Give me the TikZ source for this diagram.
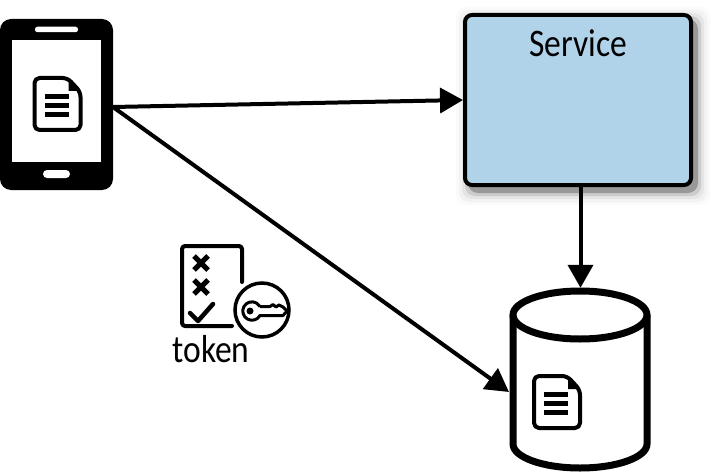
\documentclass[tikz,border=0pt]{standalone}
\usepackage{fontspec}
\setmainfont[FakeStretch=0.86]{Carlito}
\usetikzlibrary{arrows.meta}
\definecolor{svcblue}{HTML}{B0D3EA}
\tikzset{
  link/.style={->, line width=4pt},
  label/.style={font=\fontsize{39}{39}\selectfont, inner sep=0pt},
  iconline/.style={line width=4pt, line cap=round, line join=round},
  docbar/.style={fill=black, minimum width=24pt, minimum height=5pt, inner sep=0pt},
}
% document icon, (0,0) is its top left corner
\newcommand{\docicon}[3]{
  \begin{scope}[shift={(#1,#2)}]
    \draw[line width=4pt, line join=round, rounded corners=5pt, fill=white]
      (2,2) -- (35,2) -- (48,16) -- (48,54) -- (2,54) -- cycle;
    \fill (36,2) -- (36,15) -- (48,15) -- cycle;
    \node[docbar] (#3a) at (24,20.5) {};
    \node[docbar] (#3b) at (24,29.5) {};
    \node[docbar] (#3c) at (24,38.5) {};
  \end{scope}
}
\begin{document}
\begin{tikzpicture}[x=1pt, y=-1pt, >={Triangle[length=23pt,width=25pt]}]
  \useasboundingbox (0,0) rectangle (719,473);

  % Phone
  \node[fill=black, rounded corners=11pt, minimum width=113pt, minimum height=171pt, inner sep=0pt] (phone) at (56.5,104.5) {};
  \node[fill=white, minimum width=89pt, minimum height=122pt, inner sep=0pt] (screen) at (56.5,101) {};
  \node[fill=white, rounded corners=2.5pt, minimum width=43pt, minimum height=5.5pt, inner sep=0pt] (speaker) at (56.5,29.5) {};
  \node[fill=white, rounded corners=4pt, minimum width=27pt, minimum height=8pt, inner sep=0pt] (homekey) at (56.5,174) {};
  \docicon{32.5}{76}{phonedoc}

  % Service, with its soft shadow
  \foreach \grow/\shade in {24/2,18/5,12/10,6/20,0/40}
    \node[fill=black!\shade, rounded corners=10pt, minimum width=230pt+\grow pt, minimum height=174pt+\grow pt, inner sep=0pt] (shadow\grow) at (583,106) {};
  \node[draw, line width=4pt, rounded corners=7pt, fill=svcblue, minimum width=226pt, minimum height=170pt, inner sep=0pt] (service) at (578,100) {};
  \node[label] (servicetext) at (578.5,43) {Service};

  % Database
  \node[minimum width=141pt, minimum height=184pt, inner sep=0pt] (db) at (580.5,380) {};
  \draw[line width=7pt] (580,315) ellipse [x radius=67pt, y radius=24pt];
  \draw[line width=7pt] (513,315) -- (513,444) arc [start angle=180, end angle=360, x radius=67pt, y radius=24pt] -- (647,315);
  \docicon{532}{374}{dbdoc}

  % Token
  \draw[iconline, rounded corners=3pt] (242,282) -- (242,246) -- (182,246) -- (182,326) -- (232,326);
  \draw[line width=5pt] (194,256) -- (208,270) (208,256) -- (194,270);
  \draw[line width=5pt] (194,280) -- (208,294) (208,280) -- (194,294);
  \draw[iconline, line width=4.5pt] (190,313) -- (198,321) -- (213,304);
  \node[draw, circle, line width=3.5pt, fill=white, minimum size=54pt, inner sep=0pt] (keyring) at (262,310) {};
  \draw[line width=3pt, line join=round] (260,306.5) -- (270,306.5) -- (273,304.5) -- (276,307) -- (279,305) -- (283,307) -- (287,311) -- (283,315.5) -- (260,315.5)
    arc [start angle=-29, end angle=-331, radius=9.2pt];
  \fill (250,311) circle [radius=3.5pt];
  \node[label] (tokentext) at (211,349) {token};

  % Links
  \coordinate (phoneout) at (113,107);
  \coordinate (dbin) at (509,392);
  \draw[link] (phoneout) -- (service.west);
  \draw[link] (phoneout) -- (dbin);
  \draw[link] (service.south -| db.north) -- (db.north);
\end{tikzpicture}
\end{document}
